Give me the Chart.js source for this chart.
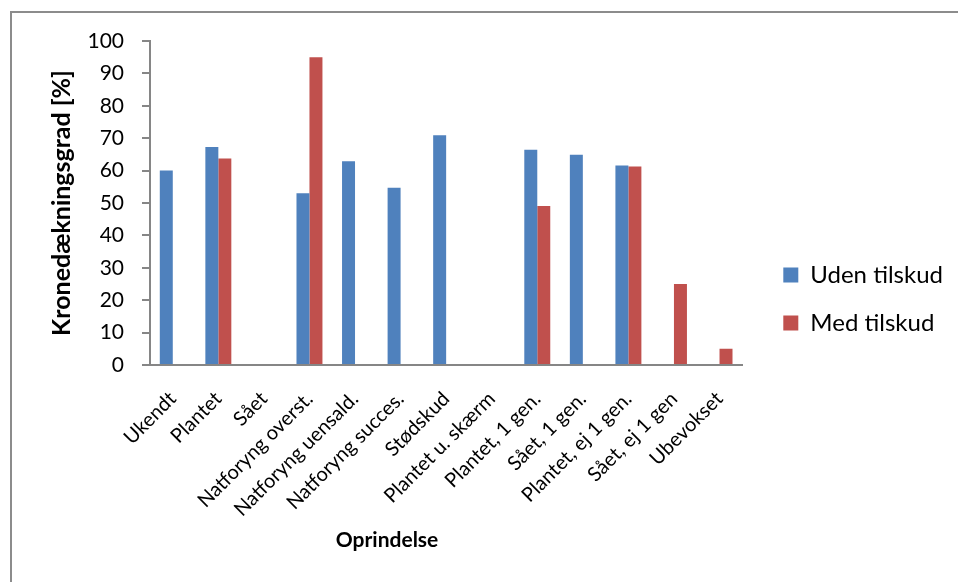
<!DOCTYPE html>
<html lang="da">
<head>
    <meta charset="UTF-8">
    <title>Kronedækningsgrad efter oprindelse</title>
    <script src="https://cdn.jsdelivr.net/npm/chart.js"></script>
    <style>
        body {
            margin: 0;
            background: #fff;
            overflow: hidden;
        }

        .frame {
            position: absolute;
            left: 10px;
            top: 11px;
            width: 1000px;
            height: 700px;
            border-left: 2px solid #8c8c8c;
            border-top: 2px solid #8c8c8c;
        }

        .wrap {
            position: absolute;
            left: 0;
            top: 0;
            width: 958px;
            height: 582px;
        }
    </style>
</head>
<body>
    <div class="frame"></div>
    <div class="wrap">
        <canvas id="chart"></canvas>
    </div>

    <script>
        const categories = [
            'Ukendt', 'Plantet', 'Sået', 'Natforyng overst.', 'Natforyng uensald.',
            'Natforyng succes.', 'Stødskud', 'Plantet u. skærm', 'Plantet, 1 gen.',
            'Sået, 1 gen.', 'Plantet, ej 1 gen.', 'Sået, ej 1 gen', 'Ubevokset'
        ];
        const udenTilskud = [60, 67.3, null, 53, 62.9, 54.7, 70.9, null, 66.4, 64.9, 61.6, null, null];
        const medTilskud = [null, 63.7, null, 95, null, null, null, null, 49.1, null, 61.3, 25, 5];
        const yTicks = [0, 10, 20, 30, 40, 50, 60, 70, 80, 90, 100];

        const FONT = 'Lato, "Open Sans", sans-serif';
        const AXIS_GREY = '#868686';
        const LEGEND_GAP = 17;

        // x-axis title, centred on the part of the chart left of the legend
        const xTitle = {
            id: 'xTitle',
            afterDraw(chart) {
                const ctx = chart.ctx;
                ctx.save();
                ctx.font = 'bold 21px ' + FONT;
                ctx.fillStyle = '#000';
                ctx.textAlign = 'center';
                ctx.textBaseline = 'middle';
                ctx.fillText('Oprindelse', chart.width * 0.404, 540);
                ctx.restore();
            }
        };

        // reserve some extra room between the plot area and the legend
        const legendGap = {
            id: 'legendGap',
            beforeLayout(chart) {
                const lg = chart.legend;
                if (lg && !lg._gapPatched) {
                    const fit = lg.fit.bind(lg);
                    lg.fit = function () {
                        fit();
                        this.width += LEGEND_GAP;
                    };
                    lg._gapPatched = true;
                }
            },
            afterLayout(chart) {
                if (chart.legend) chart.legend.left += LEGEND_GAP;
            }
        };

        new Chart(document.getElementById('chart'), {
            type: 'bar',
            data: {
                labels: categories,
                datasets: [{
                    label: 'Uden tilskud',
                    data: udenTilskud,
                    backgroundColor: '#4F81BD'
                }, {
                    label: 'Med tilskud',
                    data: medTilskud,
                    backgroundColor: '#C0504D'
                }]
            },
            options: {
                responsive: true,
                maintainAspectRatio: false,
                animation: false,
                datasets: {
                    bar: {
                        categoryPercentage: 0.57,
                        barPercentage: 1.0
                    }
                },
                layout: {
                    padding: { top: 41, right: 5, bottom: 25, left: 0 }
                },
                plugins: {
                    legend: {
                        position: 'right',
                        labels: {
                            boxWidth: 15,
                            boxHeight: 15,
                            padding: 24,
                            color: '#000',
                            font: { family: FONT, size: 24 }
                        }
                    },
                    tooltip: { enabled: false }
                },
                scales: {
                    x: {
                        grid: { display: false },
                        border: { display: true, color: AXIS_GREY, width: 2 },
                        ticks: {
                            color: '#000',
                            font: { family: FONT, size: 20 },
                            minRotation: 45,
                            maxRotation: 45,
                            autoSkip: false,
                            padding: 14
                        },
                        afterFit(scale) {
                            scale.height = 192;
                        }
                    },
                    y: {
                        min: 0,
                        max: 100,
                        afterBuildTicks(scale) {
                            scale.ticks = yTicks.map(v => ({ value: v }));
                        },
                        grid: {
                            drawOnChartArea: false,
                            drawTicks: true,
                            tickLength: 8,
                            color: AXIS_GREY,
                            lineWidth: 2
                        },
                        border: { display: true, color: AXIS_GREY, width: 2 },
                        ticks: {
                            color: '#000',
                            font: { family: FONT, size: 21 },
                            padding: 18
                        },
                        title: {
                            display: true,
                            text: 'Kronedækningsgrad [%]',
                            color: '#000',
                            font: { family: FONT, size: 25, weight: 'bold' },
                            padding: { top: 47, bottom: 0 }
                        },
                        afterFit(scale) {
                            scale.width = 150;
                        }
                    }
                }
            },
            plugins: [xTitle, legendGap]
        });
    </script>
</body>
</html>
